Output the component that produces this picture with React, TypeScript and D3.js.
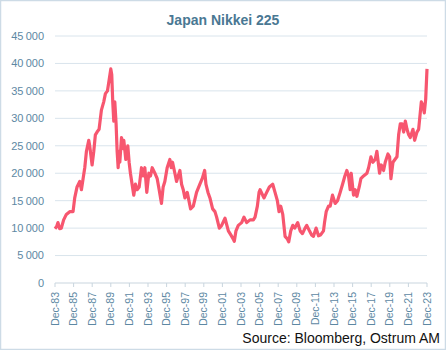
import { useRef, useEffect } from 'react';
import * as d3 from 'd3';

// Nikkei 225 level (decimal year, index level)
const years = [
  1983.92, 1984.1, 1984.24, 1984.42, 1984.6, 1984.85, 1985.14, 1985.5, 1985.86, 1986.04, 1986.29, 1986.58,
  1986.76, 1986.94, 1987.12, 1987.3, 1987.55, 1987.65, 1987.91, 1988.09, 1988.26, 1988.44,
  1988.66, 1988.91, 1989.16, 1989.34, 1989.56, 1989.74, 1989.92, 1990.02, 1990.13, 1990.24,
  1990.35, 1990.49, 1990.6, 1990.71, 1990.81, 1990.89, 1991.07, 1991.24, 1991.32, 1991.53,
  1991.75, 1991.89, 1992.03, 1992.21, 1992.39, 1992.57, 1992.75, 1992.97, 1993.22, 1993.4,
  1993.58, 1993.79, 1994.01, 1994.19, 1994.37, 1994.66, 1994.91, 1995.12, 1995.37, 1995.55,
  1995.73, 1995.98, 1996.27, 1996.42, 1996.56, 1996.81, 1996.99, 1997.35, 1997.53, 1997.71,
  1997.89, 1998.14, 1998.5, 1998.79, 1999.14, 1999.5, 1999.75, 2000.01, 2000.15, 2000.37,
  2000.58, 2000.87, 2001.12, 2001.3, 2001.59, 2001.84, 2002.2, 2002.56, 2002.81, 2003.09,
  2003.2, 2003.38, 2003.63, 2003.99, 2004.24, 2004.53, 2004.89, 2005.25, 2005.43, 2005.68,
  2005.86, 2005.97, 2006.25, 2006.4, 2006.68, 2006.97, 2007.33, 2007.58, 2007.83, 2008.01,
  2008.19, 2008.41, 2008.66, 2008.91, 2009.05, 2009.27, 2009.49, 2009.7, 2010.02, 2010.28,
  2010.53, 2010.81, 2010.99, 2011.28, 2011.53, 2011.71, 2012.0, 2012.25, 2012.5, 2012.79,
  2012.9, 2013.08, 2013.33, 2013.51, 2013.76, 2014.05, 2014.3, 2014.58, 2014.84, 2015.09,
  2015.3, 2015.48, 2015.66, 2015.77, 2016.02, 2016.2, 2016.38, 2016.63, 2016.81, 2017.1,
  2017.46, 2017.64, 2017.89, 2018.1, 2018.35, 2018.53, 2018.82, 2019.0, 2019.25, 2019.43,
  2019.72, 2019.9, 2020.04, 2020.26, 2020.47, 2020.69, 2020.87, 2021.05, 2021.23, 2021.41,
  2021.59, 2021.77, 2021.95, 2022.12, 2022.41, 2022.59, 2022.84, 2023.02, 2023.31, 2023.45,
  2023.63, 2023.78, 2023.92,
];
const levels = [
  9900, 10300, 11000, 9900, 10000, 11500, 12500, 13000, 13000, 15500, 17500, 18500,
  17000, 19000, 21000, 24000, 26000, 25000, 21500, 24000, 27000, 27500,
  28000, 31500, 33000, 34500, 35000, 37000, 39000, 38000, 33000, 29500,
  33000, 29000, 24000, 21000, 24000, 22000, 26500, 24500, 26000, 22500,
  25000, 22000, 20000, 18000, 16000, 18000, 17000, 17500, 21000, 19500,
  21000, 16500, 20000, 19500, 21000, 20000, 19000, 17000, 14500, 17500,
  18500, 21000, 22500, 21000, 22000, 20000, 18500, 20500, 18000, 17000,
  15500, 16500, 13500, 14000, 16500, 18000, 19000, 20500, 18000, 16500,
  15500, 13500, 13000, 12000, 10000, 10500, 11800, 9500, 8800, 8000,
  7600, 9500, 10500, 11000, 12000, 11000, 11500, 11500, 12000, 14000,
  16500, 17000, 16000, 15500, 16500, 17500, 18000, 16500, 15000, 13000,
  14000, 12500, 8500, 8000, 7500, 9500, 10500, 10000, 11000, 9500,
  9000, 10000, 10500, 9500, 8700, 8500, 10000, 8600, 8800, 9500,
  11000, 13000, 14000, 14000, 16000, 14500, 15000, 16500, 18000, 19500,
  20500, 19500, 17000, 20000, 16000, 17000, 15800, 17500, 19000, 19500,
  20000, 21000, 23000, 22000, 22500, 24000, 20000, 21500, 20500, 22000,
  23500, 23000, 19000, 22000, 22500, 23000, 27000, 29000, 29000, 27500,
  29500, 28000, 27000, 26500, 28000, 26000, 27500, 28000, 33000, 32500,
  31000, 33500, 39000,
];

const yTicks = [0, 5000, 10000, 15000, 20000, 25000, 30000, 35000, 40000, 45000];
const xTickYears = d3.range(1983, 2024, 2);

const TEXT_BLUE = '#5d88a3';
const TITLE_BLUE = '#4a7893';
const LINE_COLOR = '#f7566f';

function NikkeiChart() {
  const svgRef = useRef<SVGSVGElement>(null);

  useEffect(() => {
    const svg = d3.select(svgRef.current);
    svg.selectAll('*').remove();

    const W = 446, H = 350;
    const margin = { top: 36, right: 19, bottom: 67, left: 55 };
    const width = W - margin.left - margin.right;
    const height = H - margin.top - margin.bottom;

    svg.attr('width', W).attr('height', H);

    svg.append('rect')
      .attr('x', 0.5).attr('y', 0.5)
      .attr('width', W - 1).attr('height', H - 1)
      .attr('fill', '#fff')
      .attr('stroke', '#cddbe6')
      .attr('stroke-width', 1.5);

    svg.append('text')
      .attr('x', 223).attr('y', 25)
      .attr('text-anchor', 'middle')
      .style('font-family', 'Liberation Sans, Arial, sans-serif')
      .style('font-size', '14px')
      .style('font-weight', 'bold')
      .attr('fill', TITLE_BLUE)
      .text('Japan Nikkei 225');

    const g = svg.append('g')
      .attr('transform', `translate(${margin.left},${margin.top})`);

    const data = years.map((t, i) => ({ t, v: levels[i] }));

    const x = d3.scaleLinear().domain([1983.92, 2023.92]).range([0, width]);
    const y = d3.scaleLinear().domain([0, 45000]).range([height, 0]);

    // Grid
    g.append('g')
      .selectAll('line')
      .data(yTicks.filter(d => d > 0))
      .enter()
      .append('line')
      .attr('x1', 0).attr('x2', width)
      .attr('y1', d => y(d)).attr('y2', d => y(d))
      .attr('stroke', '#d9e4ec')
      .attr('stroke-width', 1);

    // Y labels
    g.append('g')
      .selectAll('text')
      .data(yTicks)
      .enter()
      .append('text')
      .attr('x', -11)
      .attr('y', d => y(d))
      .attr('dy', '0.35em')
      .attr('text-anchor', 'end')
      .style('font-family', 'Liberation Sans, Arial, sans-serif')
      .style('font-size', '11px')
      .attr('fill', TEXT_BLUE)
      .text(d => d3.format(',')(d).replace(',', '\u2009'));

    // X axis
    g.append('line')
      .attr('x1', 0).attr('x2', width)
      .attr('y1', height).attr('y2', height)
      .attr('stroke', '#c9d5de').attr('stroke-width', 1);

    const xt = g.append('g')
      .selectAll('g')
      .data(xTickYears)
      .enter()
      .append('g')
      .attr('transform', d => `translate(${x(d + 0.92)},${height})`);

    xt.append('line')
      .attr('y1', 0).attr('y2', 4)
      .attr('stroke', '#c9d5de');

    xt.append('text')
      .attr('transform', 'rotate(-90)')
      .attr('x', -9)
      .attr('dy', '0.35em')
      .attr('text-anchor', 'end')
      .style('font-family', 'Liberation Sans, Arial, sans-serif')
      .style('font-size', '10.5px')
      .attr('fill', TEXT_BLUE)
      .text(d => `Dec-${String((d) % 100).padStart(2, '0')}`);

    const line = d3.line<{ t: number; v: number }>()
      .x(d => x(d.t))
      .y(d => y(d.v));

    g.append('path')
      .datum(data)
      .attr('fill', 'none')
      .attr('stroke', LINE_COLOR)
      .attr('stroke-width', 3.2)
      .attr('stroke-linejoin', 'round')
      .attr('d', line);

    svg.append('text')
      .attr('x', 440).attr('y', 343)
      .attr('text-anchor', 'end')
      .style('font-family', 'Liberation Sans, Arial, sans-serif')
      .style('font-size', '14px')
      .attr('fill', '#111')
      .text('Source: Bloomberg, Ostrum AM');
  }, []);

  return <svg ref={svgRef} style={{ display: 'block' }}></svg>;
}

export default function App() {
  return (
    <div style={{ position: 'fixed', left: 0, top: 0 }}>
      <NikkeiChart />
    </div>
  );
}
